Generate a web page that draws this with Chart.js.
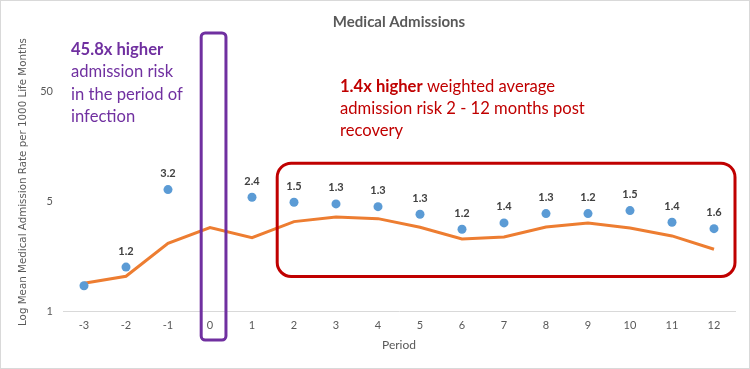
<!DOCTYPE html>
<html>
<head>
<meta charset="utf-8">
<script src="https://cdn.jsdelivr.net/npm/chart.js@4.4.1/dist/chart.umd.min.js"></script>
<style>
  html, body { margin: 0; padding: 0; background: #fff; }
  #wrap { width: 750px; height: 369px; box-sizing: border-box; border: 1px solid #d9d9d9; }
  canvas { display: block; }
</style>
</head>
<body>
<div id="wrap"><canvas id="admChart" width="748" height="367"></canvas></div>
<script>
const periods = ['-3', '-2', '-1', '0', '1', '2', '3', '4', '5', '6', '7', '8', '9', '10', '11', '12'];
// covid group (dots) - period 0 is off the top of the chart
const admissionRate = [1.57, 2.19, 8.73, null, 7.62, 6.97, 6.76, 6.44, 5.62, 4.30, 4.82, 5.69, 5.69, 6.00, 4.88, 4.35];
// comparison group (line)
const baselineRate = [1.64, 1.86, 3.35, 4.43, 3.70, 4.93, 5.36, 5.20, 4.46, 3.62, 3.75, 4.48, 4.82, 4.40, 3.82, 3.01];
const ratioLabels = ['', '1.2', '3.2', '', '2.4', '1.5', '1.3', '1.3', '1.3', '1.2', '1.4', '1.3', '1.2', '1.5', '1.4', '1.6'];
const yTickValues = [1, 7.07, 50];
const yTickLabels = ['1', '5', '50'];

const FONT = 'Lato, "Open Sans", sans-serif';
const GREY = '#595959';

function roundBox(ctx, x1, y1, x2, y2, r, color, lw) {
  ctx.save();
  ctx.strokeStyle = color;
  ctx.lineWidth = lw;
  ctx.beginPath();
  ctx.roundRect(x1, y1, x2 - x1, y2 - y1, r);
  ctx.stroke();
  ctx.restore();
}

const extras = {
  id: 'extras',
  afterDatasetsDraw(chart) {
    const ctx = chart.ctx;
    const x = chart.scales.x, y = chart.scales.y;
    const step = x.getPixelForValue(1) - x.getPixelForValue(0);

    // ratio labels over the dots
    const meta = chart.getDatasetMeta(0);
    ctx.save();
    ctx.font = 'bold 11px ' + FONT;
    ctx.fillStyle = '#404040';
    ctx.textAlign = 'center';
    ctx.textBaseline = 'middle';
    meta.data.forEach((pt, i) => {
      if (ratioLabels[i] && admissionRate[i] !== null) ctx.fillText(ratioLabels[i], pt.x, pt.y - 16);
    });
    ctx.restore();

    // box around infection period
    const p0 = x.getPixelForValue(3);
    roundBox(ctx, p0 - 0.21 * step, y.getPixelForValue(143), p0 + 0.38 * step, y.getPixelForValue(0.596), 4, '#7030A0', 3);

    // box around months 2 - 12
    const p2 = x.getPixelForValue(5), p12 = x.getPixelForValue(15);
    roundBox(ctx, p2 - 0.4 * step, y.getPixelForValue(14.0), p12 + 0.5 * step, y.getPixelForValue(1.85), 14, '#C00000', 3);

    // annotation texts
    ctx.save();
    ctx.textBaseline = 'middle';
    ctx.textAlign = 'left';
    ctx.fillStyle = '#7030A0';
    ctx.font = 'bold 16.6px ' + FONT;
    ctx.fillText('45.8x higher', 70, 49);
    ctx.font = '16.6px ' + FONT;
    ctx.fillText('admission risk', 70, 71);
    ctx.fillText('in the period of', 70, 94);
    ctx.fillText('infection', 70, 116);

    ctx.fillStyle = '#C00000';
    ctx.font = 'bold 16.6px ' + FONT;
    const bold = '1.4x higher';
    ctx.fillText(bold, 339, 86);
    const bw = ctx.measureText(bold).width;
    ctx.font = '16.6px ' + FONT;
    ctx.fillText(' weighted average', 339 + bw, 86);
    ctx.fillText('admission risk 2 - 12 months post', 339, 108);
    ctx.fillText('recovery', 339, 130);
    ctx.restore();
  }
};

new Chart(document.getElementById('admChart'), {
  type: 'line',
  data: {
    labels: periods,
    datasets: [{
      label: 'Admission rate',
      data: admissionRate,
      showLine: false,
      pointRadius: 4.5,
      pointHoverRadius: 4.5,
      pointBackgroundColor: '#5B9BD5',
      pointBorderWidth: 0,
      borderColor: '#5B9BD5'
    }, {
      label: 'Comparison',
      data: baselineRate,
      borderColor: '#ED7D31',
      borderWidth: 3,
      pointRadius: 0,
      tension: 0
    }]
  },
  options: {
    responsive: false,
    animation: false,
    layout: { padding: { left: 0, right: 14, top: 0, bottom: 10 } },
    plugins: {
      legend: { display: false },
      tooltip: { enabled: false },
      title: {
        display: true,
        text: 'Medical Admissions',
        fullSize: false,
        color: GREY,
        font: { family: FONT, size: 15, weight: 'bold' },
        padding: { top: 12, bottom: 22 }
      }
    },
    scales: {
      x: {
        offset: true,
        grid: { display: false, drawTicks: false },
        border: { color: '#d9d9d9', width: 1 },
        ticks: { color: GREY, font: { family: FONT, size: 11 }, padding: 8, maxRotation: 0 },
        title: { display: true, text: 'Period', color: GREY, font: { family: FONT, size: 12 }, padding: { top: 6, bottom: 6 } },
        afterFit: s => { s.height = 47; }
      },
      y: {
        type: 'logarithmic',
        min: 1,
        max: 100,
        grid: { display: false, drawTicks: false },
        border: { display: false },
        afterBuildTicks: s => { s.ticks = yTickValues.map(v => ({ value: v })); },
        ticks: {
          color: GREY,
          font: { family: FONT, size: 11 },
          padding: 10,
          callback: (v, i) => yTickLabels[i]
        },
        title: {
          display: true,
          text: 'Log Mean Medical Admission Rate per 1000 Life Months',
          color: GREY,
          font: { family: '"DejaVu Sans"', size: 10.3 },
          padding: { top: 16, bottom: 0 }
        },
        afterFit: s => { s.width = 62; }
      }
    }
  },
  plugins: [extras]
});
</script>
</body>
</html>
